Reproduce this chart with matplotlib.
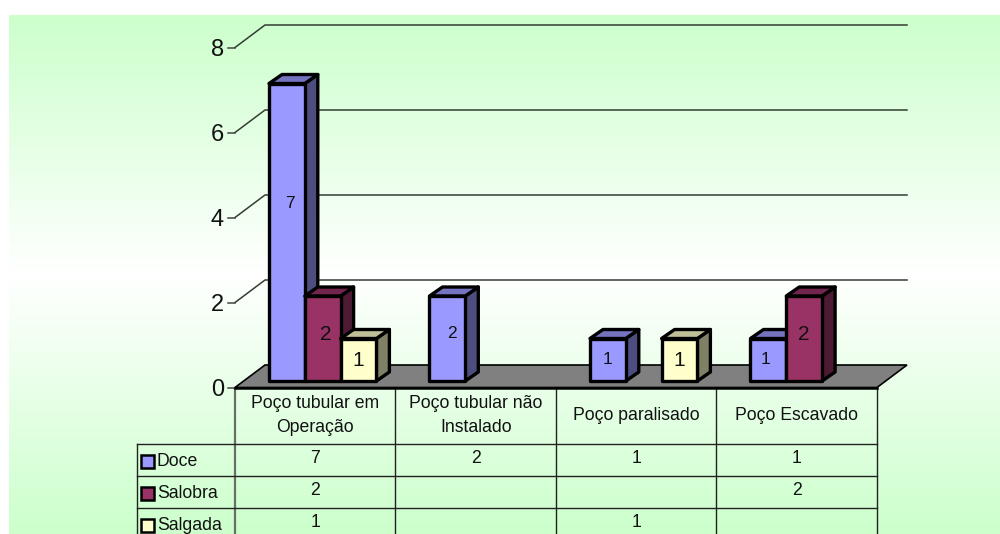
import numpy as np
import matplotlib
matplotlib.use("Agg")
import matplotlib.pyplot as plt
from matplotlib.colors import LinearSegmentedColormap
from matplotlib.patches import Polygon, Rectangle

plt.rcParams['font.family'] = ['Liberation Sans', 'DejaVu Sans']

# Data
categories = ["Poço tubular em\nOperação", "Poço tubular não\nInstalado",
              "Poço paralisado", "Poço Escavado"]
series_names = ["Doce", "Salobra", "Salgada"]
doce = [7, 2, 1, 1]
salobra = [2, None, None, 2]
salgada = [1, None, 1, None]
y_ticks = [0, 2, 4, 6, 8]

# Styles: front, top and side faces per series
front = ["#9999FF", "#993366", "#FFFFCC"]
top = ["#7373BF", "#73264D", "#BFBF99"]
side = ["#4D4D80", "#4D1A33", "#808066"]
label_size = [12.5, 15, 15]
TABLE_FONT = 12.7

W, H = 1000, 534
X0, CAT_W = 235.0, 160.5      # pixel position of category 0, category width
Y0, UNIT = 387.5, 42.5        # pixel position of value 0, pixels per value unit

fig = plt.figure(figsize=(W / 100, H / 100), dpi=100, facecolor="white")
ax = fig.add_axes([0, 0, 1, 1])
ax.axis("off")

px = 1 / CAT_W    # one pixel along x, in data units
py = 1 / UNIT     # one pixel along y, in data units


def X(pixel):
    return (pixel - X0) * px


def Y(pixel):
    return (Y0 - pixel) * py


# Panel with the vertical green-white-green gradient
cmap = LinearSegmentedColormap.from_list(
    "panel", [(0, "#CCFFCC"), (0.5, "#FFFFFF"), (1, "#CCFFCC")])
ax.imshow(np.linspace(0, 1, 256)[:, None], cmap=cmap, aspect="auto",
          extent=(X(9), X(1000), Y(534), Y(15)), zorder=0)
# Data axes: x in categories, y in values, spanning the whole canvas
ax.set_xlim(-X0 / CAT_W, (W - X0) / CAT_W)
ax.set_ylim((Y0 - H) / UNIT, Y0 / UNIT)

# Wall depth
DX, DY = 30 * px, 22.5 * py
n = len(categories)

# Gridlines on the back and side walls
for v in y_ticks[1:]:
    ax.plot([0, DX, n + DX], [v, v + DY, v + DY], color="#333d33", lw=1.1, zorder=1)
ax.plot([0, 0], [0, Y(534)], color="#667066", lw=1.6, zorder=1)

# Floor
ax.add_patch(Polygon([(0, 0), (DX, DY), (n + DX, DY), (n, 0)], closed=True,
                     facecolor="#808080", edgecolor="black", lw=1.2, zorder=2))

# Axis ticks and labels
for v in y_ticks:
    ax.plot([X(228), 0], [v, v], color="#444444", lw=1.1, zorder=1)
    ax.text(X(224), v, str(v), ha="right", va="center_baseline", fontsize=17, color="#111111")

# 3-D columns
BAR_W = 35.8 * px
BAR_LEFT = 34 * px
BASE = 6.5 * py
BX, BY = 13 * px, 9 * py
EDGE = dict(edgecolor="black", lw=2.4, joinstyle="round")
series = [doce, salobra, salgada]
label_nudge = {(0, 0): 3, (1, 0): 5, (0, 1): 3, (3, 0): -3}

zorder = 3
for c in range(n):
    for s, values in enumerate(series):
        v = values[c]
        if v is None:
            continue
        left = c + BAR_LEFT + s * BAR_W
        right = left + BAR_W
        low, high = BASE, BASE + v
        ax.add_patch(Polygon([(right, low), (right + BX, low + BY),
                              (right + BX, high + BY), (right, high)], closed=True,
                             facecolor=side[s], zorder=zorder, **EDGE))
        ax.add_patch(Polygon([(left, high), (left + BX, high + BY),
                              (right + BX, high + BY), (right, high)], closed=True,
                             facecolor=top[s], zorder=zorder, **EDGE))
        ax.add_patch(Rectangle((left, low), BAR_W, v, facecolor=front[s],
                               zorder=zorder, **EDGE))
        zorder += 1
        nudge = label_nudge.get((c, s), 0) * px
        ax.text((left + right) / 2 + nudge, BASE + (26 * v - 5) * py, str(v),
                ha="center", va="center", fontsize=label_size[s], color="#111111",
                zorder=50)

# Data table
row_lines = [444, 476, 508]
for r in row_lines:
    ax.plot([X(137), n], [Y(r), Y(r)], color="#222222", lw=1.0, zorder=2)
ax.plot([0, n], [0, 0], color="black", lw=1.8, zorder=2.5)
ax.plot([X(137), X(137)], [Y(444), Y(534)], color="#222222", lw=1.0, zorder=2)
for c in range(1, n + 1):
    ax.plot([c, c], [0, Y(534)], color="#222222", lw=1.0, zorder=2)

for c, name in enumerate(categories):
    ax.text(c + 0.5, Y(415.5), name, ha="center", va="center", fontsize=TABLE_FONT,
            color="#111111", linespacing=1.5)

for s, (name, values) in enumerate(zip(series_names, series)):
    row_y = 458.5 + 32 * s
    ax.add_patch(Rectangle((X(140.5), Y(row_y + 9.5)), 13 * px, 13 * py, facecolor=front[s],
                           edgecolor="black", lw=1.8, zorder=3))
    ax.text(X(157), Y(row_y + 3), name, ha="left", va="center", fontsize=TABLE_FONT,
            color="#111111", clip_on=True)
    for c, v in enumerate(values):
        if v is not None:
            ax.text(c + 0.5, Y(row_y), str(v), ha="center", va="center", fontsize=TABLE_FONT,
                    color="#111111", clip_on=True)

fig.savefig("out.png", dpi=100, facecolor="white")
